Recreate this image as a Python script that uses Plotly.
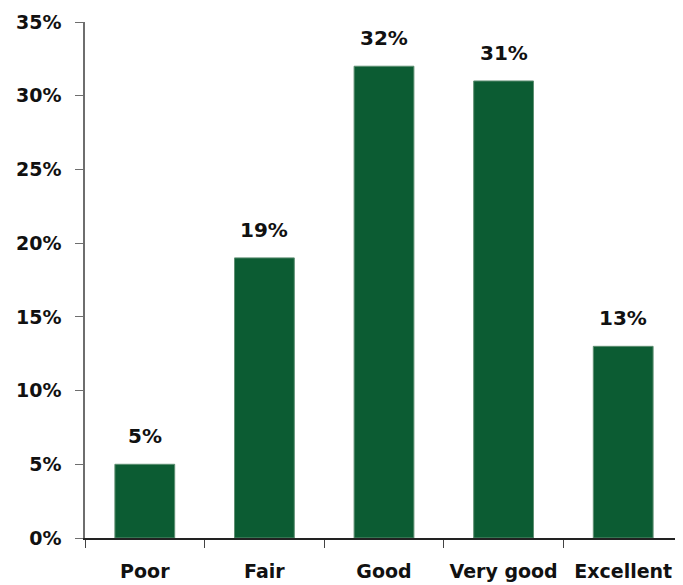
import plotly.graph_objects as go

categories = ["Poor", "Fair", "Good", "Very good", "Excellent"]
shares = [0.05, 0.19, 0.32, 0.31, 0.13]
labels = ["5%", "19%", "32%", "31%", "13%"]

font = "'DejaVu Sans', Verdana, sans-serif"

fig = go.Figure(go.Bar(
    x=categories,
    y=shares,
    marker=dict(color="#0C5C33", line=dict(color="#5E8F72", width=1)),
    width=0.5,
    hoverinfo="skip",
))

# data labels floated above each bar
for cat, val, lab in zip(categories, shares, labels):
    fig.add_annotation(
        x=cat, y=val, text=lab,
        showarrow=False, yanchor="bottom", yshift=14,
        font=dict(family=font, size=20, color="#111111", weight="bold"),
    )

# page body has an 8px margin, so size and margins allow for it
fig.update_layout(
    width=675,
    height=577,
    margin=dict(l=77, r=0, t=14, b=47),
    plot_bgcolor="white",
    paper_bgcolor="white",
    showlegend=False,
    font=dict(family=font, size=19, color="#111111", weight="bold"),
)

fig.update_yaxes(
    range=[0, 0.35],
    dtick=0.05,
    tickformat=".0%",
    showgrid=False,
    zeroline=False,
    showline=True,
    linecolor="#6e6e6e",
    linewidth=1.5,
    ticks="outside",
    ticklen=8,
    tickcolor="#6e6e6e",
    ticklabelstandoff=10,
    automargin=False,
    tickfont=dict(family=font, size=19, color="#111111", weight="bold"),
)

fig.update_xaxes(
    showgrid=False,
    showline=True,
    linecolor="#222222",
    linewidth=1.5,
    ticks="outside",
    tickson="boundaries",
    ticklen=8,
    tickcolor="#444444",
    tickangle=0,
    ticklabelstandoff=15,
    automargin=False,
    tickfont=dict(family=font, size=19, color="#111111", weight="bold"),
)

fig.write_html("out.html")
